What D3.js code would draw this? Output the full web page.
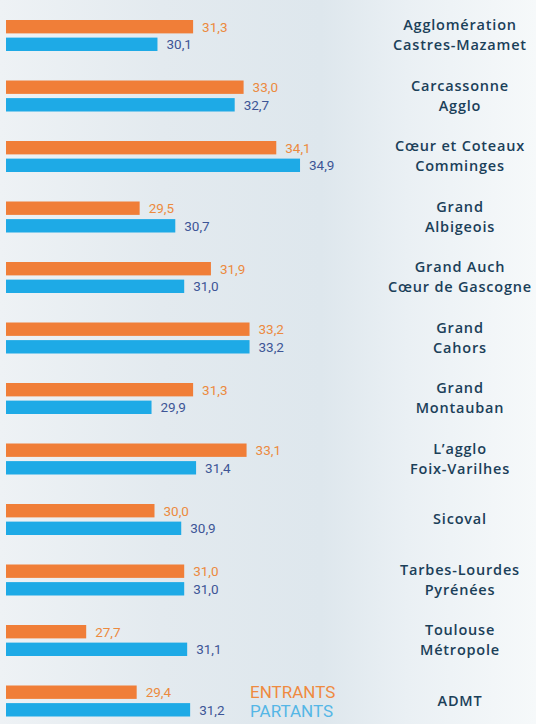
<!DOCTYPE html>
<html>
<head>
<meta charset="utf-8">
<script src="https://cdn.jsdelivr.net/npm/d3@7"></script>
<style>
  html, body { margin: 0; padding: 0; }
  body { width: 536px; height: 724px; overflow: hidden; }
</style>
</head>
<body>
<div id="chart"></div>
<script>
// Data
const categories = [
  ["Agglomération", "Castres-Mazamet"],
  ["Carcassonne", "Agglo"],
  ["Cœur et Coteaux", "Comminges"],
  ["Grand", "Albigeois"],
  ["Grand Auch", "Cœur de Gascogne"],
  ["Grand", "Cahors"],
  ["Grand", "Montauban"],
  ["L’agglo", "Foix-Varilhes"],
  ["Sicoval"],
  ["Tarbes-Lourdes", "Pyrénées"],
  ["Toulouse", "Métropole"],
  ["ADMT"]
];
const entrants = [31.3, 33.0, 34.1, 29.5, 31.9, 33.2, 31.3, 33.1, 30.0, 31.0, 27.7, 29.4];
const partants = [30.1, 32.7, 34.9, 30.7, 31.0, 33.2, 29.9, 31.4, 30.9, 31.0, 31.1, 31.2];
const seriesKeys = ["ENTRANTS", "PARTANTS"];

const cfg = {
  width: 536, height: 724,
  barColors: {ENTRANTS: "#f07e38", PARTANTS: "#1eaae6"},
  valueColors: {ENTRANTS: "#ec8a3e", PARTANTS: "#3d5596"},
  legendColors: {ENTRANTS: "#ef8a3f", PARTANTS: "#54b6e6"},
  labelColor: "#1b4059"
};

const rows = categories.map((c, i) => ({
  id: i, label: c,
  values: [{key: "ENTRANTS", v: entrants[i]}, {key: "PARTANTS", v: partants[i]}]
}));

const svg = d3.select("#chart").append("svg")
  .attr("width", cfg.width).attr("height", cfg.height);

// Background gradient
const grad = svg.append("defs").append("linearGradient")
  .attr("id", "bg").attr("x1", 0).attr("x2", 1).attr("y1", 0).attr("y2", 0);
[[0, "#eef2f5"], [0.3, "#e3eaef"], [0.6, "#dee7ed"], [0.76, "#eaf0f4"], [1, "#f6f9fa"]]
  .forEach(s => grad.append("stop").attr("offset", s[0]).attr("stop-color", s[1]));
svg.append("rect").attr("width", cfg.width).attr("height", cfg.height).attr("fill", "url(#bg)");

// Scales
const x = d3.scaleLinear().domain([25, 35]).range([6, 303]);
const y = d3.scaleBand().domain(rows.map(d => d.id)).range([20, 20 + 12 * 60.5]);
const ySub = d3.scaleBand().domain(seriesKeys).range([0, 31]).paddingInner(0.24);

const g = svg.selectAll(".row").data(rows).enter().append("g")
  .attr("class", "row")
  .attr("transform", d => `translate(0,${y(d.id)})`);

// Bars
g.selectAll("rect").data(d => d.values).enter().append("rect")
  .attr("x", x(25))
  .attr("y", d => ySub(d.key))
  .attr("height", ySub.bandwidth())
  .attr("width", d => x(d.v) - x(25))
  .attr("fill", d => cfg.barColors[d.key]);

// Values
const fmt = v => d3.format(".1f")(v).replace(".", ",");
g.selectAll(".val").data(d => d.values).enter().append("text")
  .attr("class", "val")
  .attr("x", d => x(d.v) + 9)
  .attr("y", d => ySub(d.key) + ySub.bandwidth() / 2)
  .attr("dy", "0.36em")
  .attr("font-family", "Roboto, sans-serif")
  .attr("font-size", 13.5)
  .attr("fill", d => cfg.valueColors[d.key])
  .text(d => fmt(d.v));

// Category labels
const mid = 15;
g.append("text")
  .attr("x", 460)
  .attr("text-anchor", "middle")
  .attr("font-family", "'Open Sans', sans-serif")
  .attr("font-weight", 600)
  .attr("font-size", 14.5)
  .attr("letter-spacing", 0.8)
  .attr("fill", cfg.labelColor)
  .selectAll("tspan").data(d => d.label.map((t, i, a) => ({t, i, n: a.length}))).enter()
  .append("tspan")
  .attr("x", 460)
  .attr("y", d => mid + (d.i - (d.n - 1) / 2) * 20)
  .attr("dy", "0.36em")
  .text(d => d.t);

// Legend
const last = rows[rows.length - 1];
svg.append("g").selectAll("text").data(seriesKeys).enter().append("text")
  .attr("x", 250)
  .attr("y", d => y(last.id) + ySub(d) + ySub.bandwidth() / 2 + (d === "PARTANTS" ? 1 : 0))
  .attr("dy", "0.36em")
  .attr("font-family", "Roboto, sans-serif")
  .attr("font-size", 17)
  .attr("fill", d => cfg.legendColors[d])
  .text(d => d);
</script>
</body>
</html>
